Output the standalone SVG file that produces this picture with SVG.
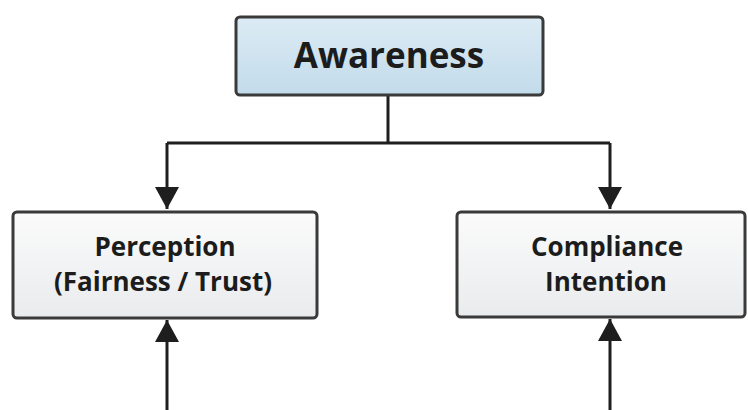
<svg xmlns="http://www.w3.org/2000/svg" width="748" height="410" viewBox="0 0 748 410">
<defs>
<linearGradient id="gBlue" x1="0" y1="0" x2="0" y2="1">
<stop offset="0" stop-color="#dcebf5"/>
<stop offset="1" stop-color="#c2dbea"/>
</linearGradient>
<linearGradient id="gWhite" x1="0" y1="0" x2="0" y2="1">
<stop offset="0" stop-color="#fbfbfb"/>
<stop offset="1" stop-color="#e9ebed"/>
</linearGradient>
<marker id="arr" markerUnits="userSpaceOnUse" markerWidth="24" markerHeight="24" viewBox="0 0 24 24" refX="22" refY="12" orient="auto">
<path d="M0,0 L22,12 L0,24 Z" fill="#1e1e1e"/>
</marker>
</defs>
<style>
.box{stroke:#3a3a3a;stroke-width:3}
.lbl{font-family:"Open Sans","DejaVu Sans",sans-serif;font-weight:700;fill:#1c1c1c;text-anchor:middle}
.conn{fill:none;stroke:#1e1e1e;stroke-width:3}
</style>
<rect width="748" height="410" fill="#ffffff"/>
<g id="connectors">
<path class="conn" d="M388,96 V143"/>
<path class="conn" d="M167,143 H610"/>
<path class="conn" d="M167,143 V209" marker-end="url(#arr)"/>
<path class="conn" d="M610,143 V209" marker-end="url(#arr)"/>
<path class="conn" d="M167,410 V320" marker-end="url(#arr)"/>
<path class="conn" d="M610,410 V319" marker-end="url(#arr)"/>
</g>
<g id="awareness">
<rect class="box" x="236" y="17" width="307" height="78" rx="4" fill="url(#gBlue)"/>
<text class="lbl" x="389" y="68" font-size="35">Awareness</text>
</g>
<g id="perception">
<rect class="box" x="13" y="212" width="304" height="106" rx="4" fill="url(#gWhite)"/>
<text class="lbl" x="165" y="256" font-size="26">Perception</text>
<text class="lbl" x="163" y="291" font-size="26">(Fairness / Trust)</text>
</g>
<g id="compliance">
<rect class="box" x="457" y="212" width="288" height="105" rx="4" fill="url(#gWhite)"/>
<text class="lbl" x="607" y="256" font-size="26">Compliance</text>
<text class="lbl" x="606" y="291" font-size="26">Intention</text>
</g>
</svg>
